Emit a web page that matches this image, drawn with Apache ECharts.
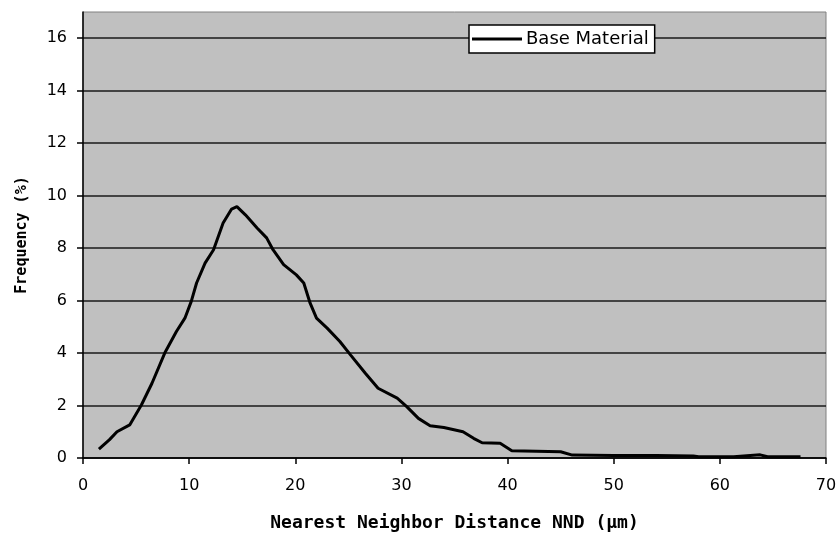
<!DOCTYPE html>
<html>
<head>
<meta charset="utf-8">
<script src="https://cdn.jsdelivr.net/npm/echarts@6/dist/echarts.min.js"></script>
<style>html,body{margin:0;padding:0;background:#fff}#c{width:839px;height:533px}</style>
</head>
<body>
<div id="c"></div>
<script>
const seriesName = 'Base Material';
const nndX = [1.5, 2.5, 3.2, 4.4, 5.5, 6.5, 7.7, 8.8, 9.6, 10.2, 10.7, 11.5, 12.3, 13.2, 14.0, 14.5, 15.3, 16.4, 17.3, 17.9, 18.9, 20.1, 20.8, 21.4, 22.0, 23.0, 24.2, 25.2, 26.6, 27.8, 29.6, 30.5, 31.6, 32.7, 34.0, 35.8, 36.8, 37.6, 39.3, 40.4, 45.0, 46.1, 50.0, 54.0, 57.5, 58.0, 61.3, 63.8, 64.5, 67.6];
const freqY = [0.34, 0.7, 1.0, 1.26, 2.02, 2.85, 4.0, 4.82, 5.33, 5.97, 6.67, 7.43, 7.94, 8.96, 9.49, 9.58, 9.27, 8.77, 8.39, 7.94, 7.37, 6.98, 6.67, 5.9, 5.33, 4.95, 4.44, 3.93, 3.23, 2.66, 2.28, 1.96, 1.51, 1.23, 1.16, 1.0, 0.75, 0.58, 0.56, 0.28, 0.24, 0.11, 0.1, 0.1, 0.08, 0.05, 0.05, 0.12, 0.05, 0.05];
const xTicks = [0, 10, 20, 30, 40, 50, 60, 70];
const yTicks = [0, 2, 4, 6, 8, 10, 12, 14, 16];

const chart = echarts.init(document.getElementById('c'), null, {renderer: 'canvas'});
const pts = nndX.map((x, i) => [x, freqY[i]]);
chart.setOption({
  animation: false,
  backgroundColor: '#ffffff',
  grid: {left: 83, right: 13, top: 12, bottom: 75, show: true, backgroundColor: '#c0c0c0', borderColor: '#808080', borderWidth: 1, containLabel: false, outerBoundsMode: 'none'},
  legend: {
    data: [{name: seriesName, icon: 'rect'}], left: 469, top: 25,
    backgroundColor: '#ffffff', borderColor: '#000', borderWidth: 1.5, borderRadius: 0,
    padding: [5, 6, 5, 3], itemWidth: 50, itemHeight: 3, itemGap: 0,
    itemStyle: {color: '#000'},
    textStyle: {fontFamily: 'DejaVu Sans', fontSize: 18, color: '#000', padding: [0, 0, 0, -1]}
  },
  xAxis: {
    type: 'value', min: 0, max: 70, interval: 10,
    name: 'Nearest Neighbor Distance NND (\u03bcm)', nameLocation: 'middle', nameGap: 56,
    nameTextStyle: {fontFamily: 'DejaVu Sans Mono', fontWeight: 'bold', fontSize: 18, color: '#000'},
    axisLine: {show: true, onZero: false, lineStyle: {color: '#000', width: 1.5}},
    axisTick: {show: true, inside: false, length: 6, lineStyle: {color: '#000', width: 1.5}, customValues: xTicks},
    axisLabel: {fontFamily: 'DejaVu Sans', fontSize: 16, color: '#000', margin: 20, customValues: xTicks},
    splitLine: {show: false}
  },
  yAxis: {
    type: 'value', min: 0, max: 17, interval: 1,
    name: 'Frequency (%)', nameLocation: 'middle', nameGap: 53, nameRotate: 90,
    nameTextStyle: {fontFamily: 'DejaVu Sans Mono', fontWeight: 'bold', fontSize: 15, color: '#000'},
    axisLine: {show: true, onZero: false, lineStyle: {color: '#000', width: 1.5}},
    axisTick: {show: true, inside: false, length: 6, lineStyle: {color: '#000', width: 1.5}, customValues: yTicks},
    axisLabel: {fontFamily: 'DejaVu Sans', fontSize: 16, color: '#000', margin: 16, customValues: yTicks},
    splitLine: {show: true, lineStyle: {color: '#1a1a1a', width: 1.5}}
  },
  series: [{
    name: seriesName, type: 'line', data: pts, symbol: 'none', smooth: false,
    lineStyle: {color: '#000', width: 3}, itemStyle: {color: '#000'}
  }]
});
</script>
</body>
</html>
